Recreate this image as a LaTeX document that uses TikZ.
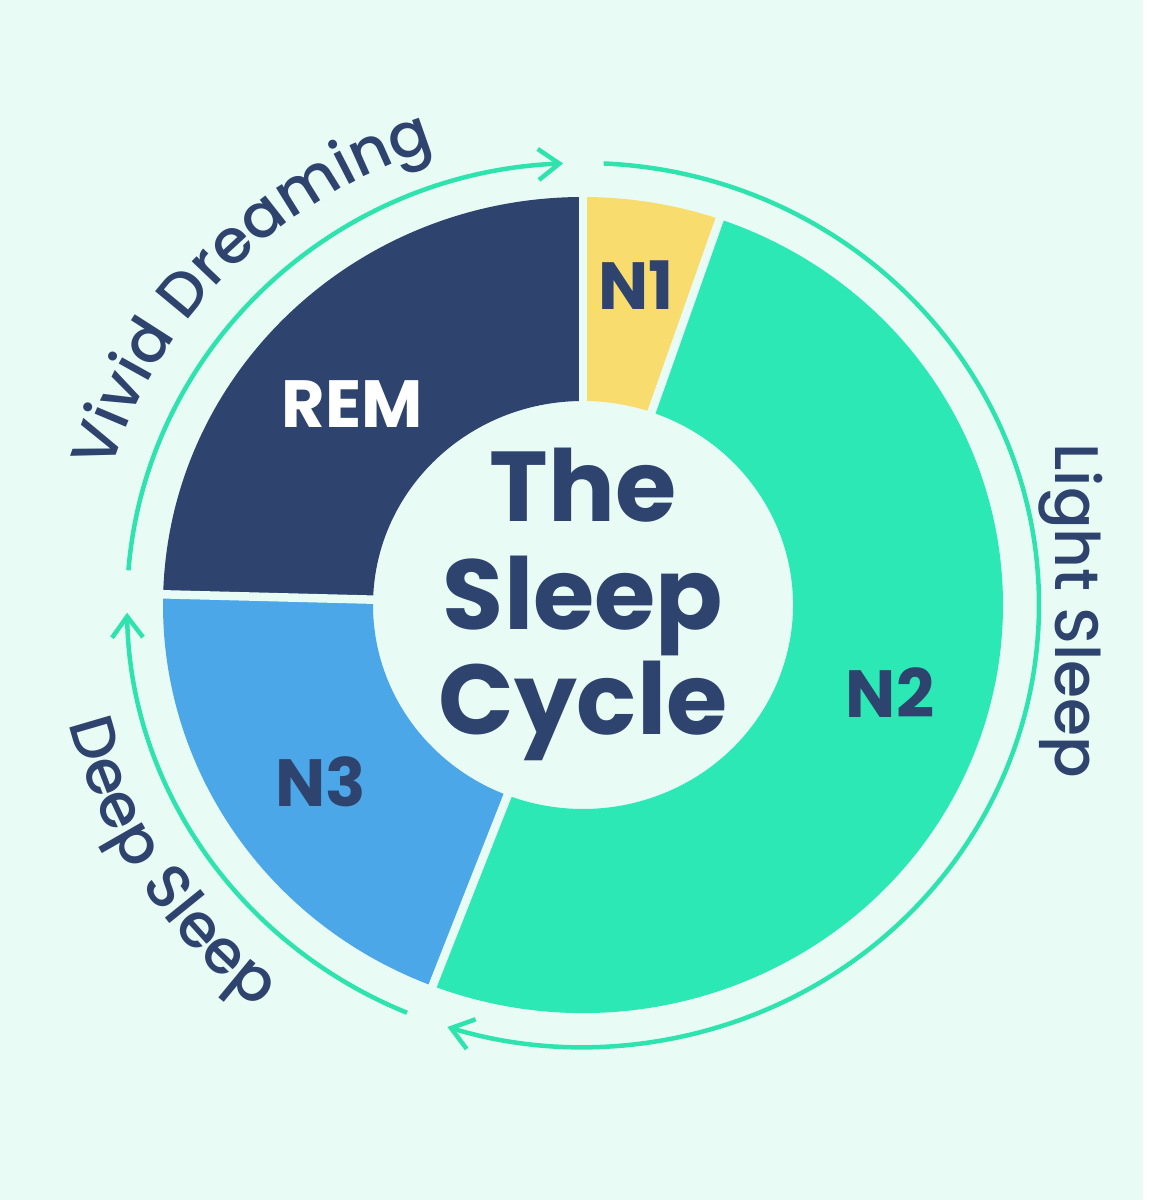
\documentclass[tikz,border=0pt]{standalone}
\usepackage{fontspec}
\setmainfont{Poppins}
\newfontfamily\labfont{Poppins Medium}
\usetikzlibrary{arrows.meta,decorations.text}
\definecolor{bgc}{HTML}{E8FCF5}
\definecolor{navy}{HTML}{2E446E}
\definecolor{n1c}{HTML}{F9DC6E}
\definecolor{n2c}{HTML}{2BE8B4}
\definecolor{n3c}{HTML}{4BA7E8}
\definecolor{arrowc}{HTML}{2FE3AE}
\newcommand{\labsize}{\labfont\fontsize{35}{40}\selectfont}
\begin{document}
\begin{tikzpicture}[x=0.02cm,y=0.02cm,
  arcarrow/.style={draw=arrowc, line width=0.09cm, -{Straight Barb[length=0.42cm,width=0.62cm]}},
  gapline/.style={draw=bgc, line width=0.17cm},
  seglabel/.style={font=\bfseries\fontsize{38}{40}\selectfont, anchor=base, inner sep=0pt},
  titletext/.style={text=navy, font=\bfseries\fontsize{56.5}{60}\selectfont, anchor=base, inner sep=0pt},
  sidelabel/.style={text=navy, font=\labsize, inner sep=0pt}]
\useasboundingbox (0,0) rectangle (1151,1200);
\fill[bgc] (0,0) rectangle (1143,1200);
\fill[white] (1143,0) rectangle (1151,1200);
\begin{scope}[shift={(583,595)}]
  % sectors
  \fill[n1c] (71:420 and 408) arc[start angle=71,end angle=90,x radius=420,y radius=408]
     -- (90:210 and 204) arc[start angle=90,end angle=71,x radius=210,y radius=204] -- cycle;
  \fill[navy] (90:420 and 408) arc[start angle=90,end angle=178.5,x radius=420,y radius=408]
     -- (178.5:210 and 204) arc[start angle=178.5,end angle=90,x radius=210,y radius=204] -- cycle;
  \fill[n3c] (178.5:420 and 408) arc[start angle=178.5,end angle=249,x radius=420,y radius=408]
     -- (249:210 and 204) arc[start angle=249,end angle=178.5,x radius=210,y radius=204] -- cycle;
  \fill[n2c] (-111:420 and 408) arc[start angle=-111,end angle=71,x radius=420,y radius=408]
     -- (71:210 and 204) arc[start angle=71,end angle=-111,x radius=210,y radius=204] -- cycle;
  % gaps
  \draw[gapline] (90:195 and 189) -- (90:430 and 418);
  \draw[gapline] (71:195 and 189) -- (71:430 and 418);
  \draw[gapline] (178.5:195 and 189) -- (178.5:430 and 418);
  \draw[gapline] (249:195 and 189) -- (249:430 and 418);
  % cycle arrows
  \coordinate (va) at (175.5:456 and 442);
  \coordinate (la) at (87.4:456 and 442);
  \coordinate (da) at (247.3:456 and 442);
  \draw[arcarrow] (va) arc[start angle=175.5,end angle=92.5,x radius=456,y radius=442];
  \draw[arcarrow] (la) arc[start angle=87.4,end angle=-107.3,x radius=456,y radius=442];
  \draw[arcarrow] (da) arc[start angle=247.3,end angle=181,x radius=456,y radius=442];
  % curved labels
  \path[decorate, decoration={text along path, text align=center,
      text={|\labsize\color{navy}|Vivid Dreaming}}]
      (175.8:492 and 478) arc[start angle=175.8,end angle=95.8,x radius=492,y radius=478];
  \path[decorate, decoration={text along path, text align=center,
      text={|\labsize\color{navy}|Deep Sleep}}]
      (172.4:528 and 512) arc[start angle=172.4,end angle=252.4,x radius=528,y radius=512];
\end{scope}
\node[sidelabel, rotate=-90, anchor=base] (light) at (1055,589) {Light Sleep};
\node[titletext] (t1) at (583,678) {The};
\node[titletext] (t2) at (583,570) {Sleep};
\node[titletext] (t3) at (583,465) {Cycle};
\node[seglabel, text=white] (rem) at (352,772) {REM};
\node[seglabel, text=navy] (n1) at (636,890) {N1};
\node[seglabel, text=navy] (n2) at (890,482) {N2};
\node[seglabel, text=navy] (n3) at (321,393) {N3};
\end{tikzpicture}
\end{document}
